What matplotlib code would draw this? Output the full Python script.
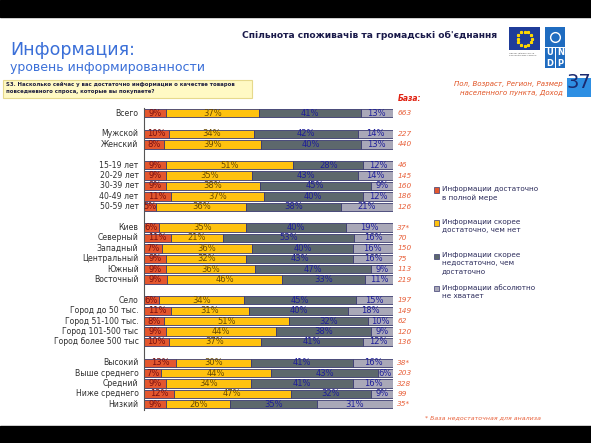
import numpy as np
import matplotlib
matplotlib.use('Agg')
import matplotlib.pyplot as plt
from matplotlib.patches import Rectangle

W, H = 591, 443

# data
categories = ['Всего', None, 'Мужской', 'Женский', None,
              '15-19 лет', '20-29 лет', '30-39 лет', '40-49 лет', '50-59 лет', None,
              'Киев', 'Северный', 'Западный', 'Центральный', 'Южный', 'Восточный', None,
              'Село', 'Город до 50 тыс.', 'Город 51-100 тыс.', 'Город 101-500 тыс',
              'Город более 500 тыс', None,
              'Высокий', 'Выше среднего', 'Средний', 'Ниже среднего', 'Низкий']
full = [9, None, 10, 8, None, 9, 9, 9, 11, 5, None, 6, 11, 7, 9, 9, 9, None,
        6, 11, 8, 9, 10, None, 13, 7, 9, 12, 9]
rather_yes = [37, None, 34, 39, None, 51, 35, 38, 37, 36, None, 35, 21, 36, 32, 36, 46, None,
              34, 31, 51, 44, 37, None, 30, 44, 34, 47, 26]
rather_no = [41, None, 42, 40, None, 28, 43, 45, 40, 38, None, 40, 53, 40, 43, 47, 33, None,
             45, 40, 32, 38, 41, None, 41, 43, 41, 32, 35]
not_at_all = [13, None, 14, 13, None, 12, 14, 9, 12, 21, None, 19, 16, 16, 16, 9, 11, None,
              15, 18, 10, 9, 12, None, 16, 6, 16, 9, 31]
bases = ['663', None, '227', '440', None, '46', '145', '160', '186', '126', None,
         '37*', '70', '150', '75', '113', '219', None,
         '197', '149', '62', '120', '136', None, '38*', '203', '328', '99', '35*']
legend_labels = ['Информации достаточно\nв полной мере',
                 'Информации скорее\nдостаточно, чем нет',
                 'Информации скорее\nнедостаточно, чем\nдостаточно',
                 'Информации абсолютно\nне хватает']

colors = ['#E4572E', '#FFC20F', '#5D686C', '#A9A8B8']
txt_colors = ['#7A1010', '#6A4A00', '#1E1E9A', '#1E1E9A']


def fx(x):
    return x / W


def fy(y):
    return 1 - y / H


fig = plt.figure(figsize=(5.91, 4.43), dpi=100)
fig.patch.set_facecolor('white')

# black bands
fig.add_artist(Rectangle((0, fy(17)), 1, 17 / H, transform=fig.transFigure,
                         color='black', zorder=10))
fig.add_artist(Rectangle((0, 0), 1, 17 / H, transform=fig.transFigure,
                         color='black', zorder=10))

# bar axes
ax = fig.add_axes([fx(144), fy(409.5), 249 / W, 301.5 / H])
series = [full, rather_yes, rather_no, not_at_all]
for i, cat in enumerate(categories):
    if cat is None:
        continue
    vals = np.array([s[i] for s in series], dtype=float)
    widths = vals / vals.sum() * 100
    left = 0
    for k in range(4):
        ax.barh(i, widths[k], left=left, height=0.8, color=colors[k],
                edgecolor='#3A3A70', linewidth=0.6)
        ax.text(left + widths[k] / 2, i, f'{int(vals[k])}%', ha='center', va='center',
                fontsize=6, color=txt_colors[k])
        left += widths[k]
    ax.text(-2.2, i, cat, ha='right', va='center', fontsize=5.6, color='#303030')
    ax.text(101.8, i, bases[i], ha='left', va='center', fontsize=5.3,
            color='#E8603A', style='italic')

ax.set_xlim(0, 100)
ax.set_ylim(len(categories) - 0.5, -0.5)
ax.set_xticks([])
ax.set_yticks([])
for side in ['top', 'right', 'bottom']:
    ax.spines[side].set_visible(False)
ax.spines['left'].set_color('#555555')
ax.spines['left'].set_linewidth(0.8)

ax.text(101.8, -1.4, 'База:', ha='left', va='center', fontsize=5.5,
        color='#E02010', style='italic', fontweight='bold')

# header and titles
fig.text(fx(370), fy(35), 'Спільнота споживачів та громадські об\'єднання', ha='center',
         va='center', fontsize=6.6, fontweight='bold', color='#1A1A4A')
fig.text(fx(10), fy(50), 'Информация:', ha='left', va='center', fontsize=12.5,
         color='#3A6FD8')
fig.text(fx(10), fy(68), 'уровень информированности', ha='left', va='center',
         fontsize=9, color='#3A6FD8')

# question box
fig.add_artist(Rectangle((fx(3), fy(98)), 249 / W, 18 / H, transform=fig.transFigure,
                         facecolor='#FFF9C4', edgecolor='#E6D98C', linewidth=0.8))
fig.text(fx(6), fy(84.5), 'S3. Насколько сейчас у вас достаточно информации о качестве товаров',
         ha='left', va='center', fontsize=3.9, fontweight='bold', color='#202040')
fig.text(fx(6), fy(92), 'повседневного спроса, которые вы покупаете?',
         ha='left', va='center', fontsize=3.9, fontweight='bold', color='#202040')

# right side text
fig.text(fx(563), fy(84), 'Пол, Возраст, Регион, Размер', ha='right', va='center',
         fontsize=5, color='#E05020', style='italic')
fig.text(fx(563), fy(92.5), 'населенного пункта, Доход', ha='right', va='center',
         fontsize=5, color='#E05020', style='italic')

# page number box
fig.add_artist(Rectangle((fx(567), fy(97)), 24 / W, 19 / H, transform=fig.transFigure,
                         facecolor='#2E8FE3', edgecolor='none'))
fig.text(fx(579), fy(83), '37', ha='center', va='center', fontsize=14, color='#1A2A70')

# EU flag
fig.add_artist(Rectangle((fx(509), fy(50)), 31 / W, 23 / H, transform=fig.transFigure,
                         facecolor='#1F3C99', edgecolor='none'))
ang = np.linspace(0, 2 * np.pi, 12, endpoint=False)
fig.add_artist(plt.Line2D([fx(524.5 + 7 * np.cos(a)) for a in ang],
                          [fy(38.5 + 7 * np.sin(a)) for a in ang],
                          transform=fig.transFigure, linestyle='none', marker='*',
                          markersize=2, color='#FFD700'))
fig.text(fx(509), fy(54), 'Проект фінансується\nЄвропейським Союзом', ha='left',
         va='center', fontsize=1.6, color='#555555')

# UNDP logo
fig.add_artist(Rectangle((fx(545), fy(47)), 20 / W, 20 / H, transform=fig.transFigure,
                         facecolor='#1F6CC0', edgecolor='none'))
fig.add_artist(plt.Line2D([fx(555)], [fy(37)], transform=fig.transFigure, marker='o',
                          markersize=7, markerfacecolor='none', markeredgecolor='white',
                          markeredgewidth=1))
for j, (lx, ly, lt) in enumerate([(545, 48, 'U'), (555.5, 48, 'N'),
                                   (545, 58.5, 'D'), (555.5, 58.5, 'P')]):
    fig.add_artist(Rectangle((fx(lx), fy(ly + 9.5)), 9.5 / W, 9.5 / H,
                             transform=fig.transFigure, facecolor='#1F6CC0',
                             edgecolor='none'))
    fig.text(fx(lx + 4.75), fy(ly + 4.75), lt, ha='center', va='center', fontsize=6,
             fontweight='bold', color='white')

# legend
leg_y = [190, 223, 256, 288]
for k, lab in enumerate(legend_labels):
    fig.add_artist(Rectangle((fx(434), fy(leg_y[k] + 2.5)), 5 / W, 5 / H,
                             transform=fig.transFigure, facecolor=colors[k],
                             edgecolor='#3A3A70', linewidth=0.5))
    fig.text(fx(442), fy(leg_y[k] - 4), lab, ha='left', va='top', fontsize=5.2,
             color='#2A2A5A', linespacing=1.45)

fig.text(fx(425), fy(418), '* База недостаточная для анализа', ha='left', va='center',
         fontsize=4.5, color='#E8603A', style='italic')

fig.savefig('out.png', dpi=100)
